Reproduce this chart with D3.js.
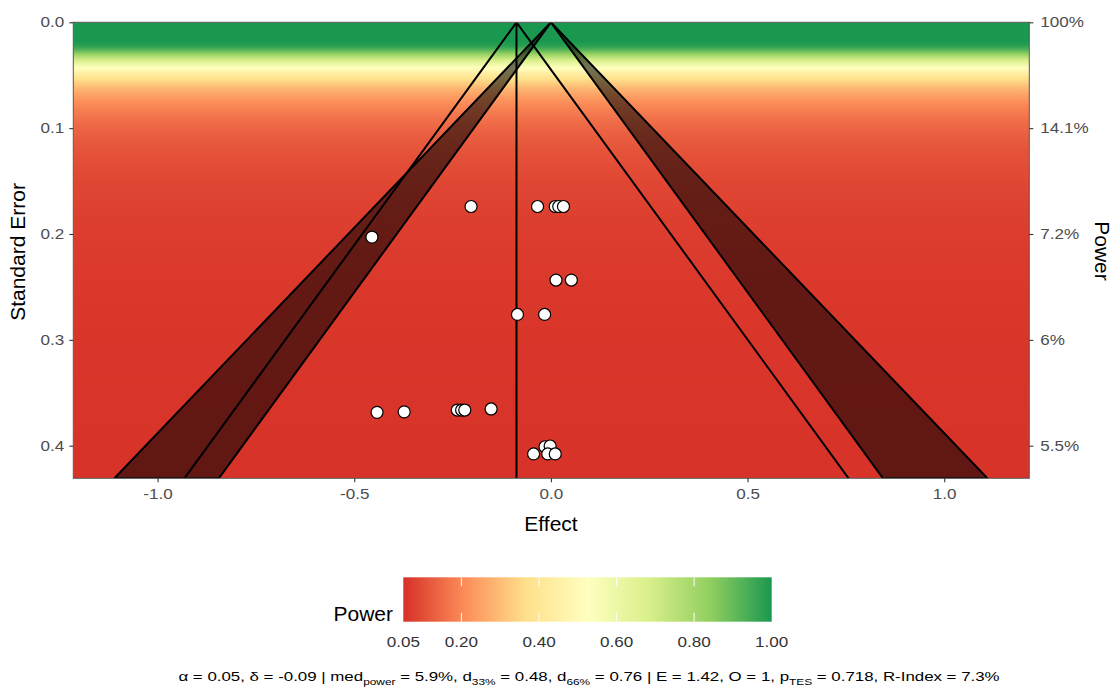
<!DOCTYPE html>
<html>
<head>
<meta charset="utf-8">
<script src="https://cdn.jsdelivr.net/npm/d3@7"></script>
<style>
  body { margin: 0; background: #fff; }
  text { font-family: "Liberation Sans", Arial, sans-serif; }
</style>
</head>
<body>
<div id="chart"></div>
<script>
// studies: effect size and standard error
var effects = [-0.203, -0.034, 0.011, 0.020, 0.032,
               -0.455,
               0.013, 0.052,
               -0.085, -0.016,
               -0.442, -0.373, -0.238, -0.227, -0.219, -0.152,
               -0.044, -0.015, -0.002, -0.008, 0.011];
var stderrs = [0.174, 0.174, 0.174, 0.174, 0.174,
               0.203,
               0.2435, 0.2435,
               0.276, 0.276,
               0.3685, 0.368, 0.3663, 0.3663, 0.3663, 0.3653,
               0.4078, 0.401, 0.4003, 0.4078, 0.4078];

var alpha = 0.05;
var delta = -0.0875;          // pooled effect (printed as -0.09)
var seMax = 0.4308;

var xTicks = [-1.0, -0.5, 0.0, 0.5, 1.0];
var yTicks = [0.0, 0.1, 0.2, 0.3, 0.4];
var powerLabels = ["100%", "14.1%", "7.2%", "6%", "5.5%"];
var legendTicks = [0.05, 0.20, 0.40, 0.60, 0.80, 1.00];
var paletteColors = ["#d73027", "#fc8d59", "#fee08b", "#ffffbf", "#d9ef8b", "#91cf60", "#1a9850"];

var footer = [
  ["α = 0.05, δ = -0.09 | med", false], ["power", true],
  [" = 5.9%, d", false], ["33%", true],
  [" = 0.48, d", false], ["66%", true],
  [" = 0.76 | E = 1.42, O = 1, p", false], ["TES", true],
  [" = 0.718, R-Index = 7.3%", false]
];

// ---- helpers
function normCdf(z) {
  var t = 1 / (1 + 0.3275911 * Math.abs(z) / Math.SQRT2);
  var y = 1 - (((((1.061405429 * t - 1.453152027) * t) + 1.421413741) * t - 0.284496736) * t + 0.254829592) * t *
          Math.exp(-z * z / 2);
  return z >= 0 ? (1 + y) / 2 : (1 - y) / 2;
}
var zCrit = 1.959964;
function power(se) {
  if (se <= 0) return 1;
  var d = Math.abs(delta) / se;
  return normCdf(d - zCrit) + normCdf(-d - zCrit);
}
var fmt1 = function(d) { return d.toFixed(1); };   // plain hyphen minus, like R
var wide = 1.22;   // the reference's small text runs wider than Liberation Sans

var W = 1115, H = 695;
var svg = d3.select("#chart").append("svg").attr("width", W).attr("height", H);

var x = d3.scaleLinear().domain([-1.2143, 1.2163]).range([73.3, 1029.3]);
var y = d3.scaleLinear().domain([0, seMax]).range([22.3, 478.3]);

var colorPos = d3.range(paletteColors.length).map(function(i) {
  return 0.05 + 0.95 * i / (paletteColors.length - 1);
});
var color = d3.scaleLinear().domain(colorPos).range(paletteColors).clamp(true);

var defs = svg.append("defs");

// background gradient by power
var bg = defs.append("linearGradient").attr("id", "bgGrad")
  .attr("gradientUnits", "userSpaceOnUse")
  .attr("x1", 0).attr("x2", 0).attr("y1", y(0)).attr("y2", y(seMax));
d3.range(0, 301).forEach(function(i) {
  var s = seMax * i / 300;
  bg.append("stop").attr("offset", i / 300).attr("stop-color", color(power(s)));
});

defs.append("clipPath").attr("id", "panelClip").append("rect")
  .attr("x", x.range()[0]).attr("y", y.range()[0])
  .attr("width", x.range()[1] - x.range()[0]).attr("height", y.range()[1] - y.range()[0]);

var panel = svg.append("g").attr("clip-path", "url(#panelClip)");

panel.append("rect")
  .attr("x", x.range()[0]).attr("y", y.range()[0])
  .attr("width", x.range()[1] - x.range()[0]).attr("height", y.range()[1] - y.range()[0])
  .attr("fill", "url(#bgGrad)");

// significance wedges (between 1.96 and 2.576 SE from 0)
var z1 = 1.959964, z2 = 2.575829;
[-1, 1].forEach(function(side) {
  var pts = [[0, 0], [side * z1 * seMax, seMax], [side * z2 * seMax, seMax]];
  panel.append("path")
    .attr("d", "M" + pts.map(function(p) { return x(p[0]) + "," + y(p[1]); }).join("L") + "Z")
    .attr("fill", "#000").attr("fill-opacity", 0.55)
    .attr("stroke", "#000").attr("stroke-width", 2).attr("stroke-linejoin", "round");
});

// funnel around pooled effect
var line = d3.line().x(function(d) { return x(d[0]); }).y(function(d) { return y(d[1]); });
panel.append("path")
  .datum([[delta - z1 * seMax, seMax], [delta, 0], [delta + z1 * seMax, seMax]])
  .attr("d", line).attr("fill", "none").attr("stroke", "#000").attr("stroke-width", 2);
panel.append("path")
  .datum([[delta, 0], [delta, seMax]])
  .attr("d", line).attr("fill", "none").attr("stroke", "#000").attr("stroke-width", 2);

// studies
panel.selectAll("circle.study")
  .data(effects.map(function(e, i) { return { e: e, se: stderrs[i] }; }))
  .enter().append("circle")
  .attr("class", "study")
  .attr("cx", function(d) { return x(d.e); })
  .attr("cy", function(d) { return y(d.se); })
  .attr("r", 6)
  .attr("fill", "#fff").attr("stroke", "#000").attr("stroke-width", 1.2);

// panel border
svg.append("rect")
  .attr("x", x.range()[0]).attr("y", y.range()[0])
  .attr("width", x.range()[1] - x.range()[0]).attr("height", y.range()[1] - y.range()[0])
  .attr("fill", "none").attr("stroke", "#555").attr("stroke-width", 1);

// axes
function styleAxis(g) {
  g.select(".domain").remove();
  g.selectAll(".tick line").attr("stroke", "#333").attr("stroke-width", 1.1);
  g.selectAll(".tick text").attr("fill", "#4d4d4d").style("font-size", "14px")
    .style("font-family", "'Liberation Sans', Arial, sans-serif");
}
svg.append("g").attr("transform", "translate(0," + y.range()[1] + ")")
  .call(d3.axisBottom(x).tickValues(xTicks).tickFormat(fmt1).tickSize(4).tickPadding(7))
  .call(styleAxis)
  .selectAll(".tick text").attr("transform", "scale(" + wide + ",1)");
svg.append("g").attr("transform", "translate(" + x.range()[0] + ",0)")
  .call(d3.axisLeft(y).tickValues(yTicks).tickFormat(fmt1).tickSize(4).tickPadding(3.5))
  .call(styleAxis)
  .selectAll(".tick text").attr("transform", "scale(" + wide + ",1)");
svg.append("g").attr("transform", "translate(" + x.range()[1] + ",0)")
  .call(d3.axisRight(y).tickValues(yTicks).tickFormat(function(d, i) { return powerLabels[i]; })
    .tickSize(4).tickPadding(5))
  .call(styleAxis)
  .selectAll(".tick text").attr("transform", "scale(" + wide + ",1)");

svg.append("text").attr("x", 551).attr("y", 531).attr("text-anchor", "middle")
  .style("font-size", "21px").text("Effect");
svg.append("text").attr("transform", "translate(25,252) rotate(-90)").attr("text-anchor", "middle")
  .style("font-size", "21px").text("Standard Error");
svg.append("text").attr("transform", "translate(1095,251) rotate(90)").attr("text-anchor", "middle")
  .style("font-size", "21px").text("Power");

// legend colour bar
var lx = d3.scaleLinear().domain([0.05, 1]).range([403.3, 771.7]);
var lg = defs.append("linearGradient").attr("id", "legGrad")
  .attr("x1", 0).attr("x2", 1).attr("y1", 0).attr("y2", 0);
colorPos.forEach(function(p, i) {
  lg.append("stop").attr("offset", (p - 0.05) / 0.95).attr("stop-color", paletteColors[i]);
});
var barTop = 577.3, barH = 44.4;
svg.append("rect").attr("x", lx(0.05)).attr("y", barTop)
  .attr("width", lx(1) - lx(0.05)).attr("height", barH).attr("fill", "url(#legGrad)");
var inner = legendTicks.filter(function(t) { return t > 0.05 && t < 1; });
svg.selectAll("line.ltTop").data(inner).enter().append("line")
  .attr("x1", function(d) { return lx(d); }).attr("x2", function(d) { return lx(d); })
  .attr("y1", barTop).attr("y2", barTop + barH / 5)
  .attr("stroke", "#fff").attr("stroke-width", 1.2).attr("stroke-opacity", 0.8);
svg.selectAll("line.ltBot").data(inner).enter().append("line")
  .attr("x1", function(d) { return lx(d); }).attr("x2", function(d) { return lx(d); })
  .attr("y1", barTop + barH - barH / 5).attr("y2", barTop + barH)
  .attr("stroke", "#fff").attr("stroke-width", 1.2).attr("stroke-opacity", 0.8);
svg.selectAll("text.ltl").data(legendTicks).enter().append("text")
  .attr("transform", function(d) { return "translate(" + lx(d) + ",647) scale(" + wide + ",1)"; })
  .attr("text-anchor", "middle").attr("fill", "#333").style("font-size", "14px")
  .text(function(d) { return d3.format(".2f")(d); });
svg.append("text").attr("x", 393).attr("y", 621).attr("text-anchor", "end")
  .style("font-size", "21px").text("Power");

// footer caption
var ft = svg.append("text")
  .attr("transform", "translate(589,681) scale(1.25,1)")
  .attr("text-anchor", "middle")
  .style("font-size", "13.5px");
footer.forEach(function(f, i) {
  var prevSub = i > 0 && footer[i - 1][1];
  var ts = ft.append("tspan").text(f[0]);
  if (f[1]) ts.attr("dy", 3.5).style("font-size", "9.5px");
  else if (prevSub) ts.attr("dy", -3.5);
});
</script>
</body>
</html>
